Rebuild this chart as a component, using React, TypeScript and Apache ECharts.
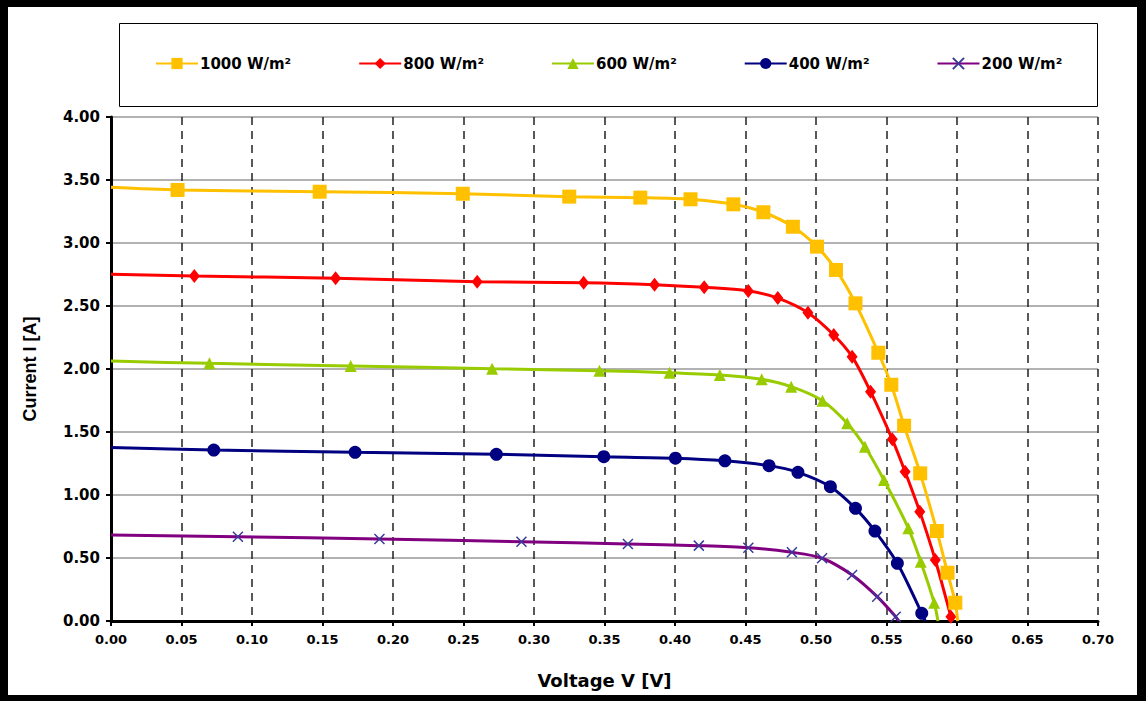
import React, { useEffect, useRef } from "react";
import * as echarts from "echarts";

const seriesNames = ["1000 W/m²", "800 W/m²", "600 W/m²", "400 W/m²", "200 W/m²"];
const seriesColors = ["#FFC000", "#FF0000", "#99CC00", "#000080", "#800080"];

// [voltage, current]; first and last points are curve ends without marker
const v1000 = [0, 0.0472, 0.148, 0.2495, 0.325, 0.3754, 0.411, 0.4414, 0.4627, 0.4836, 0.5007, 0.5142, 0.528, 0.5442, 0.5534, 0.5625, 0.5739, 0.5857, 0.5933, 0.5988, 0.6005];
const i1000 = [3.442, 3.421, 3.407, 3.391, 3.368, 3.36, 3.347, 3.307, 3.244, 3.129, 2.971, 2.786, 2.521, 2.129, 1.875, 1.55, 1.172, 0.714, 0.383, 0.145, 0];

const v800 = [0, 0.0591, 0.1593, 0.2597, 0.3352, 0.3855, 0.4207, 0.452, 0.4729, 0.4943, 0.5126, 0.5256, 0.5387, 0.5541, 0.5632, 0.5736, 0.5846, 0.5957, 0.5965];
const i800 = [2.752, 2.738, 2.72, 2.693, 2.685, 2.669, 2.648, 2.619, 2.563, 2.447, 2.27, 2.098, 1.82, 1.442, 1.185, 0.868, 0.484, 0.034, 0];

const v600 = [0, 0.0698, 0.17, 0.2703, 0.3464, 0.3962, 0.4318, 0.4615, 0.4824, 0.5046, 0.5221, 0.5347, 0.5482, 0.5655, 0.5743, 0.5838, 0.5865];
const i600 = [2.063, 2.045, 2.024, 2.002, 1.987, 1.971, 1.952, 1.918, 1.86, 1.748, 1.569, 1.383, 1.119, 0.736, 0.471, 0.145, 0];

const v400 = [0, 0.0729, 0.1731, 0.2733, 0.3495, 0.4003, 0.4354, 0.4667, 0.4872, 0.5102, 0.528, 0.5418, 0.5577, 0.575, 0.5775];
const i400 = [1.376, 1.357, 1.339, 1.323, 1.304, 1.292, 1.271, 1.233, 1.18, 1.066, 0.894, 0.714, 0.458, 0.061, 0];

const v200 = [0, 0.09, 0.1904, 0.2911, 0.3666, 0.4169, 0.452, 0.4829, 0.5043, 0.5256, 0.5434, 0.5565, 0.5585];
const i200 = [0.683, 0.669, 0.651, 0.629, 0.611, 0.598, 0.582, 0.545, 0.498, 0.365, 0.193, 0.034, 0];

const xTicks = { min: 0, max: 0.7, interval: 0.05 };
const yTicks = { min: 0, max: 4, interval: 0.5 };

function toData(vs: number[], is: number[]) {
  return vs.map((v, k) => {
    const edge = k === 0 || k === vs.length - 1;
    return edge ? { value: [v, is[k]], symbol: "none" } : { value: [v, is[k]] };
  });
}

export default function App() {
  const ref = useRef<HTMLDivElement>(null);
  useEffect(() => {
    document.body.style.margin = "0";
    if (!ref.current) return;
    const chart = echarts.init(ref.current, undefined, { renderer: "svg" });
    const symbols = [
      { symbol: "rect", symbolSize: 14 },
      { symbol: "diamond", symbolSize: [11, 14] },
      { symbol: "triangle", symbolSize: 12 },
      { symbol: "circle", symbolSize: 13 },
      { symbol: "path://M0,0L10,10M10,0L0,10", symbolSize: 10 },
    ];
    const dataSets = [
      toData(v1000, i1000),
      toData(v800, i800),
      toData(v600, i600),
      toData(v400, i400),
      toData(v200, i200),
    ];
    const series = dataSets.map((d, k) => ({
      name: seriesNames[k],
      type: "line",
      data: d,
      smooth: 0.3,
      symbol: symbols[k].symbol,
      symbolSize: symbols[k].symbolSize,
      showAllSymbol: true,
      lineStyle: { color: seriesColors[k], width: 3 },
      itemStyle:
        k === 4
          ? { color: "#800080", borderColor: "#3a3a9a", borderWidth: 1.5 }
          : { color: seriesColors[k], borderWidth: 0 },
      z: 10 - k,
    }));
    chart.setOption({
      animation: false,
      backgroundColor: "#ffffff",
      grid: { left: 111, top: 117, width: 987, height: 504, containLabel: false },
      legend: {
        left: 150,
        top: 51,
        itemWidth: 42,
        itemHeight: 14,
        itemGap: 67,
        data: seriesNames,
        textStyle: { fontFamily: "DejaVu Sans", fontWeight: "bold", fontSize: 15, color: "#000", padding: [0, 0, 0, -3] },
      },
      xAxis: {
        type: "value",
        min: xTicks.min,
        max: xTicks.max,
        interval: xTicks.interval,
        name: "Voltage V [V]",
        nameLocation: "middle",
        nameGap: 50,
        nameTextStyle: { fontFamily: "DejaVu Sans", fontWeight: "bold", fontSize: 18, color: "#000" },
        axisLine: { show: true, onZero: false, lineStyle: { color: "#000", width: 3 } },
        axisTick: { show: true, inside: false, length: 5, lineStyle: { color: "#000", width: 2 } },
        axisLabel: {
          margin: 12,
          fontFamily: "DejaVu Sans",
          fontWeight: "bold",
          fontSize: 13,
          color: "#000",
          formatter: (v: number) => v.toFixed(2),
        },
        splitLine: { show: true, lineStyle: { color: "#222", width: 1.5, type: [8, 6] } },
      },
      yAxis: {
        type: "value",
        min: yTicks.min,
        max: yTicks.max,
        interval: yTicks.interval,
        name: "Current I [A]",
        nameLocation: "middle",
        nameGap: 72,
        nameRotate: 90,
        nameTextStyle: { fontFamily: "Liberation Sans", fontWeight: "bold", fontSize: 18, color: "#000" },
        axisLine: { show: true, onZero: false, lineStyle: { color: "#000", width: 3 } },
        axisTick: { show: true, inside: false, length: 5, lineStyle: { color: "#000", width: 2 } },
        axisLabel: {
          margin: 11,
          fontFamily: "DejaVu Sans",
          fontWeight: "bold",
          fontSize: 15,
          color: "#000",
          formatter: (v: number) => v.toFixed(2),
        },
        splitLine: { show: true, lineStyle: { color: "#999", width: 1.5, type: "solid" } },
      },
      graphic: [
        { type: "rect", shape: { x: 119.5, y: 23.5, width: 978, height: 83 }, style: { fill: "none", stroke: "#000", lineWidth: 1 }, z: 0 },
        { type: "rect", shape: { x: 0, y: 0, width: 1146, height: 7 }, style: { fill: "#000" } },
        { type: "rect", shape: { x: 0, y: 0, width: 8, height: 701 }, style: { fill: "#000" } },
        { type: "rect", shape: { x: 1137, y: 0, width: 9, height: 701 }, style: { fill: "#000" } },
        { type: "rect", shape: { x: 0, y: 695, width: 1146, height: 6 }, style: { fill: "#000" } },
      ],
      series,
    });
    return () => chart.dispose();
  }, []);
  return <div ref={ref} style={{ width: 1146, height: 701 }} />;
}
